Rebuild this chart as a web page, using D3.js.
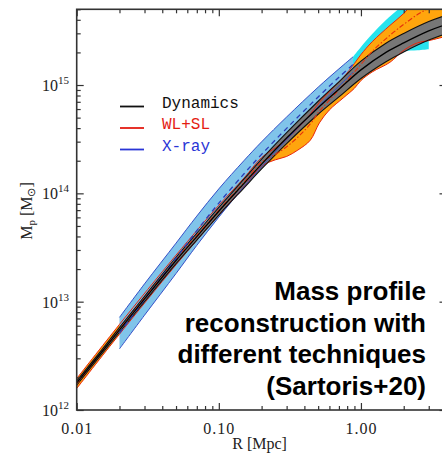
<!DOCTYPE html>
<html>
<head>
<meta charset="utf-8">
<script src="https://cdn.jsdelivr.net/npm/d3@7"></script>
<style>
  html, body { margin: 0; padding: 0; background: #fff; }
  svg { display: block; }
</style>
</head>
<body>
<svg id="chart" width="442" height="454"></svg>
<script>
// ---- Projected mass profiles M_p(R) ----

// Dynamics (black line, grey band)
const dynR   = [0.01, 0.015, 0.02, 0.03, 0.05, 0.07, 0.1, 0.15, 0.2, 0.3, 0.5, 0.7, 1.0, 1.5, 2.0, 3.0, 4.0];
const dynMid = [1.78e12, 3.43e12, 5.50e12, 1.06e13, 2.40e13, 3.98e13, 6.84e13, 1.23e14, 1.86e14, 3.24e14, 6.17e14, 9.12e14, 1.38e15, 2.00e15, 2.45e15, 3.16e15, 3.63e15];
const dynLo  = [1.70e12, 3.27e12, 5.22e12, 1.00e13, 2.24e13, 3.70e13, 6.31e13, 1.12e14, 1.68e14, 2.88e14, 5.37e14, 7.76e14, 1.15e15, 1.64e15, 2.02e15, 2.60e15, 2.99e15];
const dynHi  = [1.86e12, 3.59e12, 5.78e12, 1.12e13, 2.57e13, 4.29e13, 7.41e13, 1.35e14, 2.07e14, 3.63e14, 7.08e14, 1.07e15, 1.66e15, 2.43e15, 2.99e15, 3.85e15, 4.42e15];

// Weak + strong lensing (red dash-dot line, orange band)
const wlR   = [0.01, 0.02, 0.05, 0.1, 0.15, 0.2, 0.25, 0.3, 0.36, 0.44, 0.51, 0.6, 0.75, 0.9, 1.0, 1.2, 1.6, 2.0, 2.5, 3.0, 4.0];
const wlMid = [1.74e12, 5.56e12, 2.45e13, 7.00e13, 1.26e14, 1.95e14, 2.29e14, 2.69e14, 3.31e14, 4.37e14, 5.75e14, 7.24e14, 1.00e15, 1.32e15, 1.55e15, 2.04e15, 2.88e15, 3.63e15, 4.47e15, 5.13e15, 6.31e15];
const wlLo  = [1.58e12, 5.01e12, 2.19e13, 6.31e13, 1.15e14, 1.78e14, 2.04e14, 2.19e14, 2.51e14, 3.09e14, 4.47e14, 5.89e14, 7.59e14, 9.33e14, 1.10e15, 1.32e15, 1.62e15, 2.09e15, 2.45e15, 2.57e15, 2.82e15];
const wlHi  = [1.95e12, 6.17e12, 2.69e13, 7.76e13, 1.38e14, 2.14e14, 2.63e14, 3.16e14, 3.98e14, 5.37e14, 6.92e14, 8.71e14, 1.17e15, 1.58e15, 1.91e15, 2.51e15, 3.55e15, 4.57e15, 6.31e15, 7.94e15, 1.05e16];

// X-ray (blue dashed line, light-blue band)
const xrR   = [0.02, 0.03, 0.05, 0.07, 0.1, 0.15, 0.2, 0.3, 0.5, 0.7, 0.88];
const xrMid = [5.13e12, 1.05e13, 2.51e13, 4.52e13, 8.13e13, 1.51e14, 2.29e14, 3.98e14, 7.76e14, 1.18e15, 1.55e15];
const xrLo  = [3.67e12, 7.50e12, 1.82e13, 3.31e13, 6.03e13, 1.15e14, 1.76e14, 3.13e14, 6.31e14, 9.77e14, 1.32e15];
const xrHi  = [7.16e12, 1.46e13, 3.47e13, 6.17e13, 1.10e14, 2.00e14, 2.99e14, 5.07e14, 9.55e14, 1.41e15, 1.82e15];

// X-ray extrapolation at large radii (cyan band)
const xrOutR  = [0.88, 1.0, 1.2, 1.5, 2.0, 2.5, 3.0];
const xrOutLo = [1.32e15, 1.41e15, 1.58e15, 1.82e15, 2.04e15, 2.09e15, 2.14e15];
const xrOutHi = [1.82e15, 2.24e15, 2.95e15, 3.98e15, 5.50e15, 6.92e15, 8.32e15];

// Axes
const xMajor  = [0.01, 0.1, 1];
const xLabels = ["0.01", "0.10", "1.00"];
const xMinor  = [0.02, 0.03, 0.04, 0.05, 0.06, 0.07, 0.08, 0.09, 0.2, 0.3, 0.4, 0.5, 0.6, 0.7, 0.8, 0.9, 2, 3];
const yMajor  = [1e12, 1e13, 1e14, 1e15];
const yExp    = ["12", "13", "14", "15"];
const yMinor  = [];
[1e12, 1e13, 1e14, 1e15].forEach(d => [2,3,4,5,6,7,8,9].forEach(k => { if (k * d <= 5e15) yMinor.push(k * d); }));

const legendNames  = ["Dynamics", "WL+SL", "X-ray"];
const legendColors = ["#111111", "#e41b12", "#2a35d6"];
const noteLines = ["Mass profile", "reconstruction with", "different techniques", "(Sartoris+20)"];

// ---- Layout ----
const svg = d3.select("#chart");
const P = { left: 76.7, right: 446.5, top: 9.3, bottom: 410 };
const x = d3.scaleLog().domain([0.01, 4]).range([P.left, P.right]);
const y = d3.scaleLog().domain([1e12, 5e15]).range([P.bottom, P.top]);

svg.append("rect").attr("width", 442).attr("height", 454).attr("fill", "#fff");

svg.append("clipPath").attr("id", "plotClip")
  .append("rect").attr("x", P.left).attr("y", P.top)
  .attr("width", P.right - P.left).attr("height", P.bottom - P.top);

const plot = svg.append("g").attr("clip-path", "url(#plotClip)");

const zip3 = (r, lo, hi) => r.map((v, i) => ({ r: v, lo: lo[i], hi: hi[i] }));
const zip1 = (r, m) => r.map((v, i) => ({ r: v, m: m[i] }));

const smooth = d3.curveCatmullRom.alpha(0.5);
const area = d3.area().curve(smooth)
  .x(d => x(d.r)).y0(d => y(d.lo)).y1(d => y(d.hi));
const line = d3.line().curve(smooth)
  .x(d => x(d.r)).y(d => y(d.m));

const dynB = zip3(dynR, dynLo, dynHi);
const wlB  = zip3(wlR, wlLo, wlHi);
const xrB  = zip3(xrR, xrLo, xrHi);
const xoB  = zip3(xrOutR, xrOutLo, xrOutHi);

// bands
plot.append("path").datum(xoB).attr("d", area).attr("fill", "#27e3ee");
plot.append("path").datum(wlB).attr("d", area).attr("fill", "#ffa50d");
plot.append("path").datum(xrB).attr("d", area).attr("fill", "#80c4ea");
plot.append("path").datum(dynB).attr("d", area).attr("fill", "#777777");

// band edges
const edge = (r, m, col, w) => plot.append("path").datum(zip1(r, m)).attr("d", line)
  .attr("fill", "none").attr("stroke", col).attr("stroke-width", w);
edge(wlR, wlLo, "#e8250c", 1);
edge(wlR, wlHi, "#e8250c", 1);
edge(xrR, xrLo, "#3550c8", 1);
edge(xrR, xrHi, "#3550c8", 1);
edge(dynR, dynLo, "#111", 1.1);
edge(dynR, dynHi, "#111", 1.1);

// central profiles
plot.append("path").datum(zip1(wlR, wlMid)).attr("d", line)
  .attr("fill", "none").attr("stroke", "#e5300c").attr("stroke-width", 1.1)
  .attr("stroke-dasharray", "5,2,1.5,2");
plot.append("path").datum(zip1(xrR, xrMid)).attr("d", line)
  .attr("fill", "none").attr("stroke", "#2a3db8").attr("stroke-width", 1.3)
  .attr("stroke-dasharray", "5,4");
plot.append("path").datum(zip1(dynR, dynMid)).attr("d", line)
  .attr("fill", "none").attr("stroke", "#000").attr("stroke-width", 1.3);

// ---- Axes (inward ticks on all four sides) ----
const axisCol = "#333";
function styleAxis(g) {
  g.select(".domain").remove();
  g.selectAll(".tick line").attr("stroke", axisCol).attr("stroke-width", 1.2);
}
svg.append("g").attr("transform", `translate(0,${P.bottom})`)
  .call(d3.axisBottom(x).tickValues(xMinor).tickSize(-4).tickFormat("")).call(styleAxis);
svg.append("g").attr("transform", `translate(0,${P.bottom})`)
  .call(d3.axisBottom(x).tickValues(xMajor).tickSize(-7).tickPadding(13)
    .tickFormat((d, i) => xLabels[i])).call(styleAxis)
  .selectAll("text").attr("font-family", "Liberation Serif, serif").attr("font-size", 16)
  .attr("letter-spacing", 1).attr("fill", "#222");
svg.append("g").attr("transform", `translate(0,${P.top})`)
  .call(d3.axisTop(x).tickValues(xMinor).tickSize(-4).tickFormat("")).call(styleAxis);
svg.append("g").attr("transform", `translate(0,${P.top})`)
  .call(d3.axisTop(x).tickValues(xMajor).tickSize(-7).tickFormat("")).call(styleAxis);

svg.append("g").attr("transform", `translate(${P.left},0)`)
  .call(d3.axisLeft(y).tickValues(yMinor).tickSize(-4).tickFormat("")).call(styleAxis);
svg.append("g").attr("transform", `translate(${P.left},0)`)
  .call(d3.axisLeft(y).tickValues(yMajor).tickSize(-7).tickFormat("")).call(styleAxis);
svg.append("g").attr("transform", `translate(${P.right},0)`)
  .call(d3.axisRight(y).tickValues(yMinor).tickSize(-4).tickFormat("")).call(styleAxis);
svg.append("g").attr("transform", `translate(${P.right},0)`)
  .call(d3.axisRight(y).tickValues(yMajor).tickSize(-7).tickFormat("")).call(styleAxis);

// frame
svg.append("rect").attr("x", P.left).attr("y", P.top)
  .attr("width", P.right - P.left).attr("height", P.bottom - P.top)
  .attr("fill", "none").attr("stroke", axisCol).attr("stroke-width", 1.6);

// y tick labels: 10^n
const yl = svg.append("g").attr("font-family", "Liberation Serif, serif").attr("fill", "#222");
yMajor.forEach((v, i) => {
  const t = yl.append("text").attr("x", 69).attr("y", y(v) + 6).attr("text-anchor", "end")
    .attr("font-size", 16);
  t.append("tspan").text("10");
  t.append("tspan").attr("font-size", 11).attr("dy", -7).text(yExp[i]);
});

// axis titles
svg.append("text").attr("x", (P.left + P.right) / 2 - 2).attr("y", 449)
  .attr("text-anchor", "middle").attr("font-family", "Liberation Serif, serif")
  .attr("font-size", 16).attr("fill", "#222").text("R [Mpc]");

const yt = svg.append("text").attr("transform", "translate(32,211) rotate(-90)")
  .attr("text-anchor", "middle").attr("font-family", "Liberation Serif, serif")
  .attr("font-size", 16).attr("fill", "#222");
yt.append("tspan").text("M");
yt.append("tspan").attr("font-size", 11).attr("dy", 3).text("p");
yt.append("tspan").attr("dy", -3).text(" [M");
yt.append("tspan").attr("font-size", 11).attr("dy", 3).text("\u2299");
yt.append("tspan").attr("dy", -3).text("]");

// legend
const lg = svg.append("g");
legendNames.forEach((name, i) => {
  const yy = 107.5 + i * 21.5;
  lg.append("line").attr("x1", 120).attr("x2", 144).attr("y1", yy - 1).attr("y2", yy - 1)
    .attr("stroke", legendColors[i]).attr("stroke-width", 1.8);
  lg.append("text").attr("x", 162).attr("y", yy).attr("font-family", "Liberation Mono, monospace")
    .attr("font-size", 16).attr("fill", legendColors[i]).text(name);
});

// annotation
const note = svg.append("text").attr("text-anchor", "end")
  .attr("font-family", "Liberation Sans, Arial, sans-serif").attr("font-weight", "bold")
  .attr("font-size", 26).attr("fill", "#000");
noteLines.forEach((s, i) => {
  note.append("tspan").attr("x", 426).attr("y", 300 + i * 31.6).text(s);
});
</script>
</body>
</html>
